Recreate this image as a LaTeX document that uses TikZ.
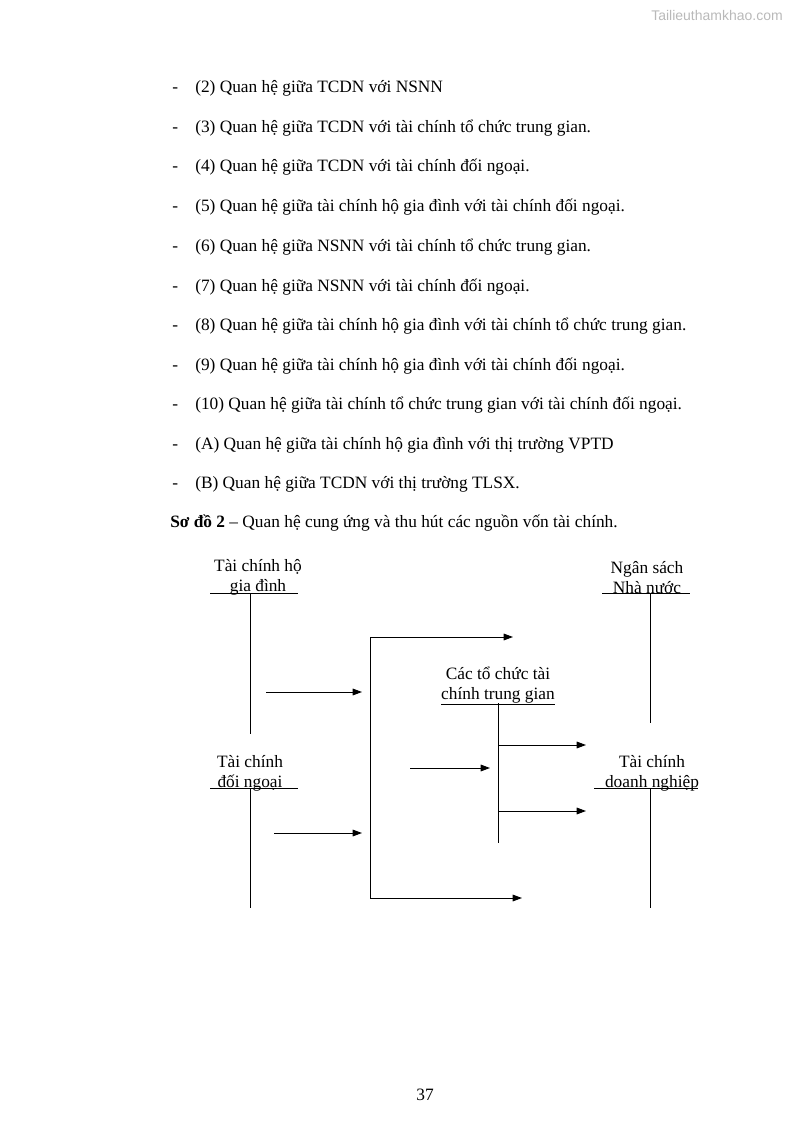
\documentclass[tikz,border=0pt]{standalone}
\usepackage{fontspec}
\setmainfont{Liberation Serif}
\newfontfamily\wmfont{Liberation Sans}
\usetikzlibrary{arrows.meta}
\begin{document}
\begin{tikzpicture}[x=0.75pt,y=-0.75pt,
  font=\fontsize{13}{15}\selectfont,
  txt/.style={anchor=base west, inner sep=0pt},
  lbl/.style={align=center, inner sep=0pt, font=\fontsize{13}{15}\selectfont},
  bar/.style={line width=0.75pt},
  arr/.style={line width=0.75pt, -{Triangle[length=7pt,width=5pt]}}]
\useasboundingbox (0,0) rectangle (794,1123);

% watermark
\node[inner sep=0pt, text=gray!55, font=\wmfont\fontsize{10.5}{12}\selectfont] (wm) at (717,15) {Tailieuthamkhao.com};

% list lines
\foreach \y/\t [count=\i] in {
  93/{(2) Quan hệ giữa TCDN với NSNN},
  133/{(3) Quan hệ giữa TCDN với tài chính tổ chức trung gian.},
  172/{(4) Quan hệ giữa TCDN với tài chính đối ngoại.},
  212/{(5) Quan hệ giữa tài chính hộ gia đình với tài chính đối ngoại.},
  251/{(6) Quan hệ giữa NSNN với tài chính tổ chức trung gian.},
  291/{(7) Quan hệ giữa NSNN với tài chính đối ngoại.},
  330/{(8) Quan hệ giữa tài chính hộ gia đình với tài chính tổ chức trung gian.},
  370/{(9) Quan hệ giữa tài chính hộ gia đình với tài chính đối ngoại.},
  409/{(10) Quan hệ giữa tài chính tổ chức trung gian với tài chính đối ngoại.},
  449/{(A) Quan hệ giữa tài chính hộ gia đình với thị trường VPTD},
  488/{(B) Quan hệ giữa TCDN với thị trường TLSX.}}{
  \node[txt] (d\i) at (172,\y) {-};
  \node[txt] (l\i) at (195,\y) {\t};
}

\node[txt] (cap) at (170,527) {\textbf{Sơ đồ 2} – Quan hệ cung ứng và thu hút các nguồn vốn tài chính.};

% diagram labels
\node[lbl] (hh) at (258,577) {Tài chính hộ\\gia đình};
\node[lbl] (ns) at (647,578) {Ngân sách\\Nhà nước};
\node[lbl] (tg) at (498,686) {Các tổ chức tài\\\underline{chính trung gian}};
\node[lbl] (dn) at (250,773) {Tài chính\\đối ngoại};
\node[lbl] (td) at (652,773) {Tài chính\\doanh nghiệp};

% coordinates
\coordinate (hhL) at (210,593); \coordinate (hhR) at (298,593);
\coordinate (hhT) at (250,593); \coordinate (hhB) at (250,734);
\coordinate (nsL) at (602,593); \coordinate (nsR) at (690,593);
\coordinate (nsT) at (650,593); \coordinate (nsB) at (650,723);
\coordinate (tgT) at (498,703); \coordinate (tgB) at (498,843);
\coordinate (dnL) at (210,788); \coordinate (dnR) at (298,788);
\coordinate (dnT) at (250,788); \coordinate (dnB) at (250,908);
\coordinate (tdL) at (594,788); \coordinate (tdR) at (698,788);
\coordinate (tdT) at (650,788); \coordinate (tdB) at (650,908);

% T-bars
\draw[bar] (hhL) -- (hhR) (hhT) -- (hhB);
\draw[bar] (nsL) -- (nsR) (nsT) -- (nsB);
\draw[bar] (tgT) -- (tgB);
\draw[bar] (dnL) -- (dnR) (dnT) -- (dnB);
\draw[bar] (tdL) -- (tdR) (tdT) -- (tdB);

% bracket
\coordinate (brTop) at (370,637); \coordinate (brBot) at (370,898);
\coordinate (brTopE) at (513,637); \coordinate (brBotE) at (522,898);
\draw[arr] (brTopE -| brTop) -- (brTopE);
\draw[bar] (brTop) -- (brBot);
\draw[arr] (brBot) -- (brBotE);

% arrows
\coordinate (a1s) at (266,692); \coordinate (a1e) at (362,692);
\coordinate (a2s) at (274,833); \coordinate (a2e) at (362,833);
\coordinate (a3s) at (410,768); \coordinate (a3e) at (490,768);
\coordinate (a4s) at (498,745); \coordinate (a4e) at (586,745);
\coordinate (a5s) at (498,811); \coordinate (a5e) at (586,811);
\draw[arr] (a1s) -- (a1e);
\draw[arr] (a2s) -- (a2e);
\draw[arr] (a3s) -- (a3e);
\draw[arr] (a4s) -- (a4e);
\draw[arr] (a5s) -- (a5e);

% page number
\node[inner sep=0pt] (pg) at (425,1095) {37};
\end{tikzpicture}
\end{document}
